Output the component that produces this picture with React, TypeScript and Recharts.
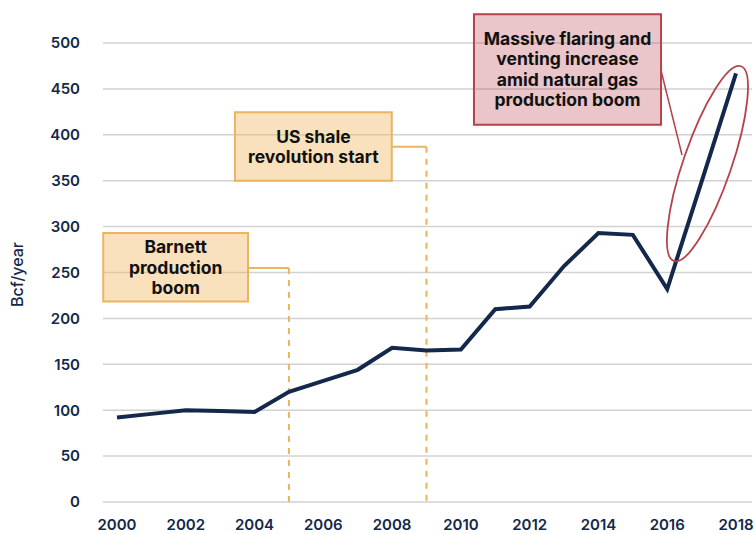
import {
  CartesianGrid,
  Line,
  LineChart,
  ReferenceArea,
  ReferenceDot,
  ReferenceLine,
  XAxis,
  YAxis,
} from "recharts";

const years = [
  2000, 2001, 2002, 2003, 2004, 2005, 2006, 2007, 2008, 2009, 2010, 2011,
  2012, 2013, 2014, 2015, 2016, 2017, 2018,
];
const flaredVolume = [
  92, 96, 100, 99, 98, 120, 132, 144, 168, 165, 166, 210, 213, 257, 293, 291,
  232, 349, 467,
];
const xTicks = [2000, 2002, 2004, 2006, 2008, 2010, 2012, 2014, 2016, 2018];
const yTicks = [0, 50, 100, 150, 200, 250, 300, 350, 400, 450, 500];

const barnettLines = ["Barnett", "production", "boom"];
const shaleLines = ["US shale", "revolution start"];
const flaringLines = [
  "Massive flaring and",
  "venting increase",
  "amid natural gas",
  "production boom",
];

const data = years.map((year, i) => ({ year, value: flaredVolume[i] }));

const NAVY = "#13284a";
const ORANGE = "#ebb45e";
const RED = "#b5424c";
const FONT = "Inter, Roboto, 'DejaVu Sans', sans-serif";

function boxLabel(lines: string[]) {
  return (props: any) => {
    const vb = props.viewBox || props;
    const cx = vb.x + vb.width / 2;
    const cy = vb.y + vb.height / 2;
    const lh = 20.5;
    const top = cy - ((lines.length - 1) * lh) / 2;
    return (
      <text
        x={cx}
        textAnchor="middle"
        fontFamily={FONT}
        fontWeight={700}
        fontSize={17.5}
        fill="#111111"
      >
        {lines.map((line, i) => (
          <tspan key={line} x={cx} y={top + i * lh} dy="0.36em">
            {line}
          </tspan>
        ))}
      </text>
    );
  };
}

function yLabel(props: any) {
  const vb = props.viewBox;
  const x = vb.x + 17.5;
  const y = vb.y + vb.height / 2 + 2;
  return (
    <text
      x={x}
      y={y}
      transform={`rotate(-90 ${x} ${y})`}
      textAnchor="middle"
      dy="0.35em"
      fontFamily={FONT}
      fontWeight={500}
      fontSize={16}
      fill={NAVY}
    >
      Bcf/year
    </text>
  );
}

export default function App() {
  return (
    <div style={{ position: "fixed", left: 0, top: 0, background: "#fff" }}>
      <LineChart
        width={755}
        height={534}
        data={data}
        margin={{ top: 43, right: 3, left: 0, bottom: 2 }}
      >
        <CartesianGrid vertical={false} stroke="#d2d2d2" strokeWidth={1.5} />
        <XAxis
          dataKey="year"
          type="number"
          domain={[2000, 2018]}
          ticks={xTicks}
          padding={{ left: 14, right: 16 }}
          axisLine={false}
          tickLine={false}
          tickSize={0}
          tickMargin={17}
          height={30}
          tick={{ fill: NAVY, fontSize: 15, fontWeight: 600, fontFamily: FONT }}
        />
        <YAxis
          domain={[0, 500]}
          ticks={yTicks}
          width={103}
          axisLine={false}
          tickLine={false}
          tickSize={0}
          tickMargin={23}
          tick={{ fill: NAVY, fontSize: 15, fontWeight: 600, fontFamily: FONT }}
          label={{ content: yLabel }}
        />

        <ReferenceLine
          segment={[
            { x: 2005, y: 255 },
            { x: 2005, y: 0 },
          ]}
          stroke={ORANGE}
          strokeWidth={2}
          strokeDasharray="6 6"
        />
        <ReferenceLine
          segment={[
            { x: 2009, y: 387 },
            { x: 2009, y: 0 },
          ]}
          stroke={ORANGE}
          strokeWidth={2}
          strokeDasharray="6 6"
        />
        <ReferenceLine
          segment={[
            { x: 2003.81, y: 255 },
            { x: 2005, y: 255 },
          ]}
          stroke={ORANGE}
          strokeWidth={2}
          ifOverflow="visible"
        />
        <ReferenceLine
          segment={[
            { x: 2007.99, y: 387 },
            { x: 2009, y: 387 },
          ]}
          stroke={ORANGE}
          strokeWidth={2}
          ifOverflow="visible"
        />
        <ReferenceLine
          segment={[
            { x: 2015.82, y: 470 },
            { x: 2016.43, y: 378 },
          ]}
          stroke={RED}
          strokeWidth={1.5}
          ifOverflow="visible"
        />

        <ReferenceArea
          x1={1999.6}
          x2={2003.81}
          y1={218.4}
          y2={293}
          ifOverflow="visible"
          fill="#efb55a"
          fillOpacity={0.4}
          stroke={ORANGE}
          strokeWidth={2}
          label={boxLabel(barnettLines)}
        />
        <ReferenceArea
          x1={2003.43}
          x2={2007.99}
          y1={350}
          y2={424.5}
          ifOverflow="visible"
          fill="#efb55a"
          fillOpacity={0.4}
          stroke={ORANGE}
          strokeWidth={2}
          label={boxLabel(shaleLines)}
        />
        <ReferenceArea
          x1={2010.38}
          x2={2015.82}
          y1={411}
          y2={531.4}
          ifOverflow="visible"
          fill="#b8404c"
          fillOpacity={0.3}
          stroke={RED}
          strokeWidth={2}
          label={boxLabel(flaringLines)}
        />

        <Line
          type="linear"
          dataKey="value"
          stroke={NAVY}
          strokeWidth={4}
          dot={false}
          activeDot={false}
          isAnimationActive={false}
        />

        <ReferenceDot
          x={2017.17}
          y={368.6}
          ifOverflow="visible"
          shape={(p: any) => (
            <ellipse
              cx={p.cx}
              cy={p.cy}
              rx={24}
              ry={103}
              transform={`rotate(19 ${p.cx} ${p.cy})`}
              fill="none"
              stroke={RED}
              strokeWidth={1.8}
            />
          )}
        />
      </LineChart>
    </div>
  );
}
